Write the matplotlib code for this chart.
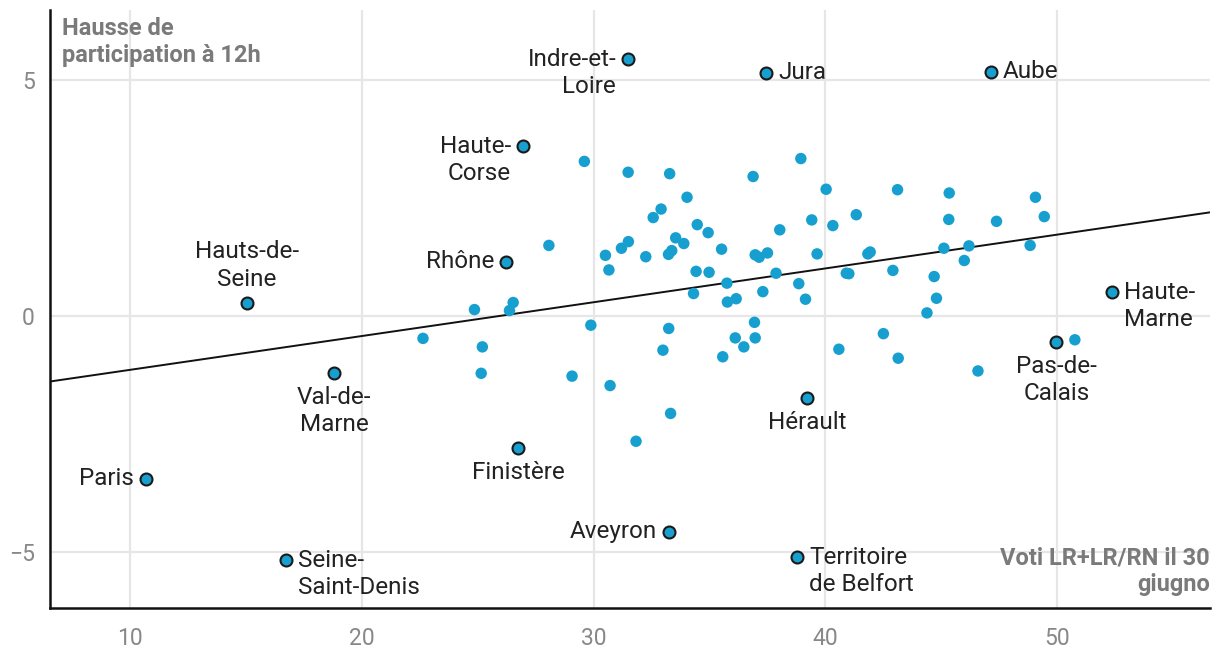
import numpy as np
import matplotlib
matplotlib.use("Agg")
import matplotlib.pyplot as plt

plt.rcParams['font.family'] = ['Roboto', 'DejaVu Sans']

# ---- data ----
plain_x = [29.60, 31.49, 33.28, 34.03, 32.91, 32.57, 34.47, 33.54, 33.89, 31.50,
           31.20, 30.51, 32.25, 33.23, 33.37, 30.66, 34.42, 34.31, 28.07, 26.53,
           24.86, 26.37, 29.88, 33.24, 22.64, 36.88, 38.94, 40.03, 43.11, 45.34,
           49.06, 34.94, 35.52, 38.03, 39.41, 40.32, 41.33, 45.32, 47.38, 49.44,
           36.97, 37.14, 37.50, 39.64, 41.83, 41.93, 45.11, 46.19, 48.83, 34.98,
           35.75, 37.87, 38.85, 40.90, 41.01, 42.91, 45.99, 35.77, 36.15, 37.30,
           39.14, 44.69, 44.79, 44.38, 36.94, 36.11, 36.97, 42.50, 25.20, 32.99,
           25.15, 29.07, 30.71, 33.32, 31.83, 35.57, 36.48, 40.58, 43.14, 46.58,
           50.76]
plain_y = [3.27, 3.04, 3.01, 2.51, 2.26, 2.08, 1.93, 1.65, 1.53, 1.57,
           1.43, 1.28, 1.25, 1.30, 1.38, 0.97, 0.94, 0.47, 1.49, 0.28,
           0.13, 0.11, -0.20, -0.27, -0.48, 2.95, 3.33, 2.68, 2.67, 2.60,
           2.51, 1.76, 1.41, 1.82, 2.03, 1.91, 2.14, 2.04, 2.00, 2.10,
           1.29, 1.24, 1.33, 1.31, 1.31, 1.35, 1.43, 1.48, 1.49, 0.92,
           0.69, 0.90, 0.68, 0.90, 0.89, 0.96, 1.17, 0.29, 0.36, 0.51,
           0.35, 0.83, 0.37, 0.06, -0.14, -0.47, -0.47, -0.38, -0.66, -0.73,
           -1.22, -1.28, -1.48, -2.07, -2.66, -0.87, -0.66, -0.71, -0.90, -1.17,
           -0.51]

hl_names = ["Indre-et-\nLoire", "Jura", "Aube", "Haute-\nCorse", "Rhône",
            "Hauts-de-\nSeine", "Val-de-\nMarne", "Finistère", "Paris",
            "Seine-\nSaint-Denis", "Aveyron", "Territoire\nde Belfort", "Hérault",
            "Pas-de-\nCalais", "Haute-\nMarne"]
hl_x = [31.49, 37.44, 47.15, 26.96, 26.22, 15.05, 18.80, 26.74, 10.69,
        16.73, 33.26, 38.78, 39.21, 49.96, 52.37]
hl_y = [5.44, 5.15, 5.17, 3.60, 1.14, 0.28, -1.21, -2.80, -3.45,
        -5.17, -4.58, -5.11, -1.74, -0.55, 0.51]
hl_pos = ["left", "right", "right", "left", "left", "above", "below", "below", "left",
          "right", "left", "right", "below", "below", "right"]

x_ticks = [10, 20, 30, 40, 50]
y_ticks = [-5, 0, 5]
y_tick_labels = ["\u22125", "0", "5"]
y_title = "Hausse de\nparticipation à 12h"
x_title = "Voti LR+LR/RN il 30\ngiugno"

# ---- figure ----
fig = plt.figure(figsize=(12.2, 6.6), dpi=100)
ax = fig.add_axes([0.041, 0.079, 0.951, 0.906])
ax.set_xlim(6.55, 56.6)
ax.set_ylim(-6.19, 6.48)

all_x = np.array(plain_x + hl_x)
all_y = np.array(plain_y + hl_y)
slope, intercept = np.polyfit(all_x, all_y, 1)
lx = np.array(ax.get_xlim())
ax.plot(lx, intercept + slope * lx, color="#111111", lw=1.4, zorder=2)

col = "#17a0cf"
ax.scatter(plain_x, plain_y, s=68, color=col, edgecolors="none", zorder=3)
ax.scatter(hl_x, hl_y, s=74, color=col, edgecolors="#1a1a1a", linewidths=1.5, zorder=4)

fs = 17.5
ls = 1.25
tc = "#222222"
for name, x, y, pos in zip(hl_names, hl_x, hl_y, hl_pos):
    multi = "\n" in name
    if pos in ("left", "right"):
        dx = -12 if pos == "left" else 12
        ha = "right" if pos == "left" else "left"
        if multi:
            ax.annotate(name, (x, y), xytext=(dx, 11), textcoords="offset pixels",
                        ha=ha, va="top", fontsize=fs, color=tc,
                        multialignment=ha, linespacing=ls)
        else:
            ax.annotate(name, (x, y), xytext=(dx, 0), textcoords="offset pixels",
                        ha=ha, va="center", fontsize=fs, color=tc)
    elif pos == "above":
        ax.annotate(name, (x, y), xytext=(0, 12), textcoords="offset pixels",
                    ha="center", va="bottom", fontsize=fs, color=tc,
                    multialignment="center", linespacing=ls)
    else:
        ax.annotate(name, (x, y), xytext=(0, -13), textcoords="offset pixels",
                    ha="center", va="top", fontsize=fs, color=tc,
                    multialignment="center", linespacing=ls)

ax.set_xticks(x_ticks)
ax.set_yticks(y_ticks)
ax.set_yticklabels(y_tick_labels)
ax.tick_params(length=0, labelsize=16.5, labelcolor="#888888")
ax.tick_params(axis="x", pad=14)
ax.tick_params(axis="y", pad=11)
ax.grid(True, color="#e6e6e6", lw=1.6, zorder=0)
ax.set_axisbelow(True)
for s in ["top", "right"]:
    ax.spines[s].set_visible(False)
for s in ["left", "bottom"]:
    ax.spines[s].set_linewidth(1.8)
    ax.spines[s].set_color("#111111")

ax.text(0.01, 0.988, y_title, transform=ax.transAxes, ha="left", va="top",
        fontsize=17, fontweight="bold", color="#7a7a7a", linespacing=1.2)
ax.text(1.0, 0.02, x_title, transform=ax.transAxes, ha="right", va="bottom",
        fontsize=17, fontweight="bold", color="#7a7a7a", linespacing=1.2,
        multialignment="right")

fig.savefig("out.png", dpi=100)
